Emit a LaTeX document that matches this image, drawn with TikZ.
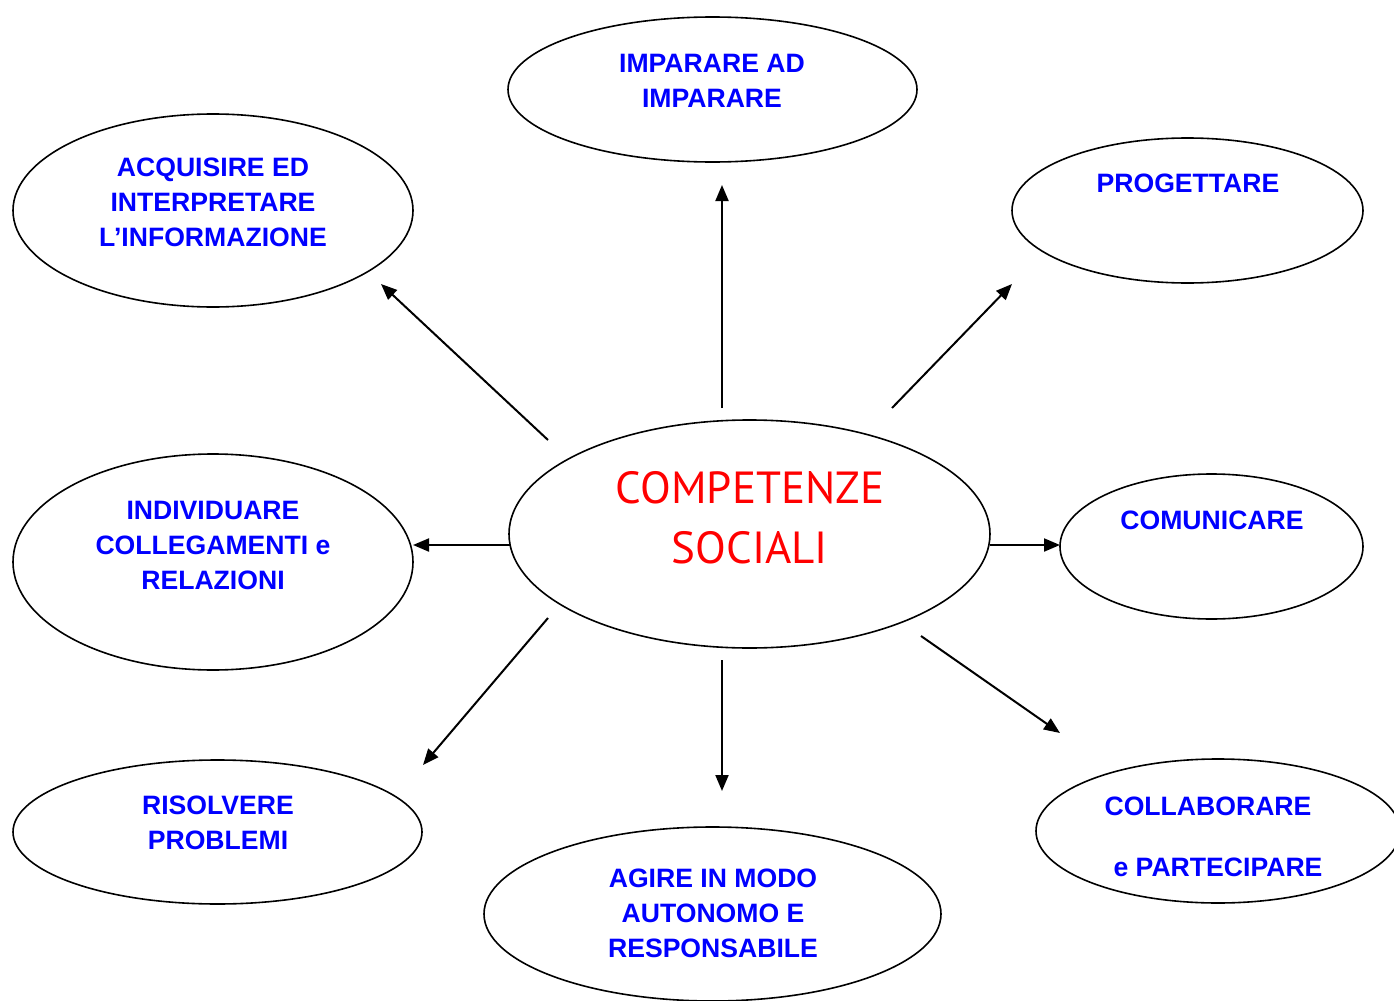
\documentclass[tikz,border=0pt]{standalone}
\usepackage{fontspec}
\setmainfont{Liberation Sans}
\newfontfamily\redfont{PT Sans}
\usetikzlibrary{shapes.geometric,arrows.meta}

\begin{document}
\begin{tikzpicture}[x=0.5pt,y=-0.5pt,
  bubble/.style={draw, ellipse, line width=0.8pt, inner sep=0pt},
  lbl/.style={text=blue, font=\fontsize{13.3}{17.5}\selectfont\bfseries, align=center},
  link/.style={line width=1pt, -{Triangle[length=8pt,width=6.5pt]}}]
  \useasboundingbox (0,0) rectangle (1394,1001);

  \node[bubble, minimum width=240.5pt, minimum height=114pt] (centro) at (749.5,534) {};
  \node[text=red, font=\redfont\fontsize{22.5}{30}\selectfont, align=center] (centro-t) at (750,518) {COMPETENZE\\SOCIALI};

  \node[bubble, minimum width=204.5pt, minimum height=72.5pt] (imparare) at (712.5,89.5) {};
  \node[lbl] (imparare-t) at (712,81) {IMPARARE AD\\IMPARARE};

  \node[bubble, minimum width=200pt, minimum height=96.5pt] (acquisire) at (213,210.5) {};
  \node[lbl] (acquisire-t) at (213,202) {ACQUISIRE ED\\INTERPRETARE\\L’INFORMAZIONE};

  \node[bubble, minimum width=175.5pt, minimum height=72.5pt] (progettare) at (1187.5,210.5) {};
  \node[lbl] (progettare-t) at (1188,183) {PROGETTARE};

  \node[bubble, minimum width=200pt, minimum height=108pt] (individuare) at (213,562) {};
  \node[lbl] (individuare-t) at (213,545) {INDIVIDUARE\\COLLEGAMENTI e\\RELAZIONI};

  \node[bubble, minimum width=151.5pt, minimum height=72.5pt] (comunicare) at (1211.5,546.5) {};
  \node[lbl] (comunicare-t) at (1212,520) {COMUNICARE};

  \node[bubble, minimum width=204.5pt, minimum height=72pt] (risolvere) at (217.5,832) {};
  \node[lbl] (risolvere-t) at (218,823) {RISOLVERE\\PROBLEMI};

  \node[bubble, minimum width=228.5pt, minimum height=87pt] (agire) at (712.5,914) {};
  \node[lbl] (agire-t) at (713,913) {AGIRE IN MODO\\AUTONOMO E\\RESPONSABILE};

  \node[bubble, minimum width=182pt, minimum height=72pt] (collaborare) at (1218,831) {};
  \node[lbl] (collaborare-t1) at (1208,806) {COLLABORARE};
  \node[lbl] (collaborare-t2) at (1218,867) {e PARTECIPARE};

  \coordinate (up-s) at (722,408);        \coordinate (up-e) at (722,185);
  \coordinate (nw-s) at (548,440);        \coordinate (nw-e) at (381,284);
  \coordinate (ne-s) at (892,408);        \coordinate (ne-e) at (1012,284);
  \coordinate (w-s) at (510,545);         \coordinate (w-e) at (413,545);
  \coordinate (e-s) at (990,545);         \coordinate (e-e) at (1060,545);
  \coordinate (sw-s) at (548,618);        \coordinate (sw-e) at (423,765);
  \coordinate (down-s) at (722,660);      \coordinate (down-e) at (722,791);
  \coordinate (se-s) at (921,636);        \coordinate (se-e) at (1060,733);

  \draw[link] (up-s) -- (up-e);
  \draw[link] (nw-s) -- (nw-e);
  \draw[link] (ne-s) -- (ne-e);
  \draw[link] (w-s) -- (w-e);
  \draw[link] (e-s) -- (e-e);
  \draw[link] (sw-s) -- (sw-e);
  \draw[link] (down-s) -- (down-e);
  \draw[link] (se-s) -- (se-e);
\end{tikzpicture}
\end{document}
